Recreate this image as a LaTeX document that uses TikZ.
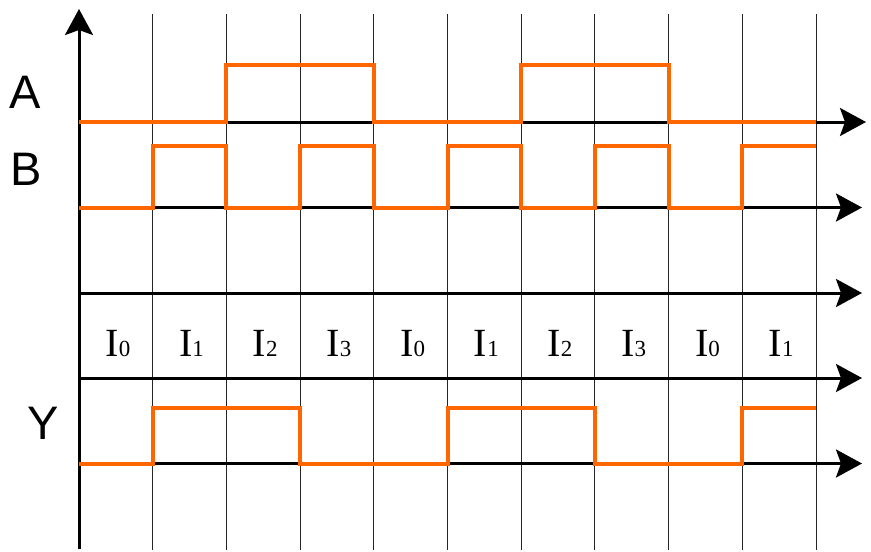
\documentclass[tikz,border=0pt]{standalone}
\usepackage{fontspec}
\setmainfont{Liberation Serif}
\newfontfamily\labelfont{Liberation Sans}
\usetikzlibrary{arrows.meta}
\definecolor{sigorange}{HTML}{FF6600}
\tikzset{
  axis/.style={line width=3pt, black, -{Stealth[length=26pt,width=28pt,inset=5pt]}},
  gridline/.style={line width=0.9pt, black!85},
  signal/.style={line width=4pt, sigorange, line join=miter},
  siglabel/.style={anchor=base, inner sep=0pt, font=\labelfont\fontsize{47}{47}\selectfont},
  inlabel/.style={anchor=base, inner sep=0pt, font=\fontsize{40}{40}\selectfont}
}
\newcommand{\Isub}[1]{I{\fontsize{23}{23}\selectfont #1}}
\begin{document}
\begin{tikzpicture}[x=1pt,y=-1pt]
\useasboundingbox (0,0) rectangle (871,552);
% grid lines
\foreach \k in {1,...,10} {
  \draw[gridline] ({79+73.7*\k},14) -- ({79+73.7*\k},550);
}
% axes
\coordinate (origin) at (79,549);
\coordinate (ytop) at (79,9);
\draw[axis] (origin) -- (ytop);
\coordinate (a0) at (79,122);   \coordinate (a1) at (866,122);
\coordinate (b0) at (79,207.5); \coordinate (b1) at (862,207.5);
\coordinate (c0) at (79,293);   \coordinate (c1) at (862,293);
\coordinate (d0) at (79,378);   \coordinate (d1) at (862,378);
\coordinate (e0) at (79,463.5); \coordinate (e1) at (862,463.5);
\draw[axis] (a0) -- (a1);
\draw[axis] (b0) -- (b1);
\draw[axis] (c0) -- (c1);
\draw[axis] (d0) -- (d1);
\draw[axis] (e0) -- (e1);
% signal A
\draw[signal] (79,122) -- (226.4,122) -- (226.4,65) -- (373.8,65) -- (373.8,122)
  -- (521.2,122) -- (521.2,65) -- (668.6,65) -- (668.6,122) -- (816,122);
% signal B
\draw[signal] (79,207.5) -- (152.7,207.5) -- (152.7,145.5) -- (226.4,145.5) -- (226.4,207.5)
  -- (300.1,207.5) -- (300.1,145.5) -- (373.8,145.5) -- (373.8,207.5)
  -- (447.5,207.5) -- (447.5,145.5) -- (521.2,145.5) -- (521.2,207.5)
  -- (594.9,207.5) -- (594.9,145.5) -- (668.6,145.5) -- (668.6,207.5)
  -- (742.3,207.5) -- (742.3,145.5) -- (816,145.5);
% signal Y
\draw[signal] (79,463.5) -- (152.7,463.5) -- (152.7,407.5) -- (300.1,407.5) -- (300.1,463.5)
  -- (447.5,463.5) -- (447.5,407.5) -- (594.9,407.5) -- (594.9,463.5)
  -- (742.3,463.5) -- (742.3,407.5) -- (816,407.5);
% signal labels
\node[siglabel] (labA) at (25.5,108) {A};
\node[siglabel] (labB) at (26.5,185) {B};
\node[siglabel] (labY) at (43,439) {Y};
% input labels
\foreach \k/\d in {0/0,1/1,2/2,3/3,4/0,5/1,6/2,7/3,8/0,9/1} {
  \node[inlabel] (in\k) at ({79+73.7*(\k+0.5)+2},356) {\Isub{\d}};
}
\end{tikzpicture}
\end{document}
